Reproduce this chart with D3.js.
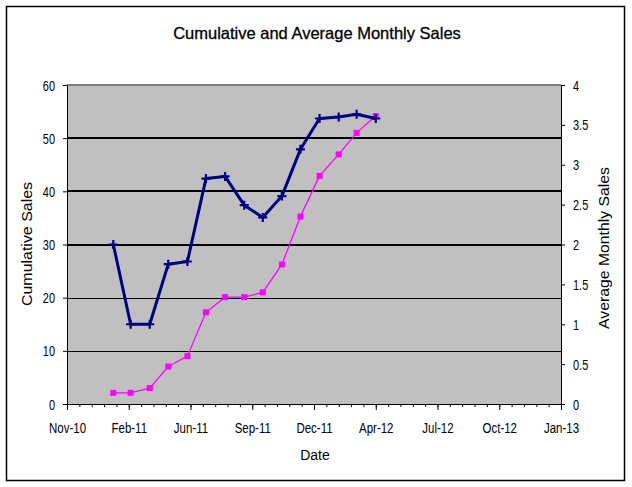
<!DOCTYPE html>
<html><head><meta charset="utf-8">
<script src="https://cdn.jsdelivr.net/npm/d3@7"></script>
<style>
body{margin:0;background:#fff;}
svg{display:block;}
text{font-family:"Liberation Sans",Arial,sans-serif;fill:#000;}
</style>
</head><body>
<svg id="c" width="632" height="487"></svg>
<script>
// ---- data ----
const months = ["2011-02-01","2011-03-01","2011-04-01","2011-05-01","2011-06-01","2011-07-01","2011-08-01",
                "2011-09-01","2011-10-01","2011-11-01","2011-12-01","2012-01-01","2012-02-01","2012-03-01","2012-04-01"];
const cumulativeSales = [30, 15, 15, 26.3, 26.8, 42.4, 42.8, 37.4, 35.1, 39.1, 47.9, 53.7, 54.0, 54.5, 53.7];
const averageMonthlySales = [0.14, 0.14, 0.2, 0.47, 0.6, 1.15, 1.34, 1.34, 1.4, 1.75, 2.35, 2.86, 3.13, 3.4, 3.61];
const xTickLabels = ["Nov-10","Feb-11","Jun-11","Sep-11","Dec-11","Apr-12","Jul-12","Oct-12","Jan-13"];
const leftTicks = [0,10,20,30,40,50,60];
const rightTicks = [0,0.5,1,1.5,2,2.5,3,3.5,4];
const axisStartDate = "2010-11-18";
const majorStepDays = 100, minorStepDays = 20;

// ---- layout ----
const svg = d3.select("#c");
const P = {left:67, right:561, top:85, bottom:404};
const DAY = 864e5;
const t0 = new Date(axisStartDate + "T00:00:00Z").getTime();
const nMajor = xTickLabels.length - 1;
const x = d3.scaleUtc().domain([new Date(t0), new Date(t0 + nMajor*majorStepDays*DAY)]).range([P.left, P.right]);
const yL = d3.scaleLinear().domain([0,60]).range([P.bottom, P.top]);
const yR = d3.scaleLinear().domain([0,4]).range([P.bottom, P.top]);
const parse = d3.utcParse("%Y-%m-%d");
const dates = months.map(parse);

// outer frame
svg.append("rect").attr("x",6.5).attr("y",6.5).attr("width",618).attr("height",474)
  .attr("fill","#fff").attr("stroke","#000").attr("stroke-width",1.5);

// plot area
svg.append("rect").attr("x",P.left).attr("y",P.top).attr("width",P.right-P.left).attr("height",P.bottom-P.top)
  .attr("fill","#c0c0c0");

// gridlines
svg.append("g").selectAll("line").data(leftTicks.filter(v=>v>0 && v<60)).join("line")
  .attr("x1",P.left).attr("x2",P.right)
  .attr("y1",d=>Math.round(yL(d))+ (d>=30?0:0.5)).attr("y2",d=>Math.round(yL(d))+(d>=30?0:0.5))
  .attr("stroke","#000").attr("stroke-width",d=>d>=30?2:1);
svg.append("line").attr("x1",P.left).attr("x2",P.right).attr("y1",P.top).attr("y2",P.top)
  .attr("stroke","#808080").attr("stroke-width",2);

// axes
const gL = svg.append("g").attr("transform",`translate(${P.left},0)`)
  .call(d3.axisLeft(yL).tickValues(leftTicks).tickSize(4).tickSizeOuter(0).tickPadding(8));
const gR = svg.append("g").attr("transform",`translate(${P.right},0)`)
  .call(d3.axisRight(yR).tickValues(rightTicks).tickSize(4).tickSizeOuter(0).tickPadding(8).tickFormat(d3.format("")));
const majorDates = d3.range(nMajor+1).map(i=>new Date(t0 + i*majorStepDays*DAY));
const minorDates = d3.range(nMajor*majorStepDays/minorStepDays+1).map(i=>new Date(t0 + i*minorStepDays*DAY));
const gXm = svg.append("g").attr("transform",`translate(0,${P.bottom})`)
  .call(d3.axisBottom(x).tickValues(minorDates).tickSize(3).tickSizeOuter(0).tickFormat(""));
const gX = svg.append("g").attr("transform",`translate(0,${P.bottom})`)
  .call(d3.axisBottom(x).tickValues(majorDates).tickSize(6).tickSizeOuter(0).tickFormat((d,i)=>xTickLabels[i]));

[gL,gR,gX,gXm].forEach(g=>{
  g.selectAll(".domain").attr("stroke","#000").attr("stroke-width",1);
  g.selectAll(".tick line").attr("stroke","#000").attr("stroke-width",1);
  g.selectAll("text").attr("font-family",null).style("font-family",'"Liberation Sans",Arial,sans-serif');
});
gL.selectAll("text").attr("font-size",11).attr("dy",null).attr("y",0).attr("transform","translate(0,5) scale(1,1.32)");
gR.selectAll("text").attr("font-size",11).attr("dy",null).attr("y",0).attr("transform","translate(0,5) scale(1,1.32)");
gX.selectAll("text").attr("font-size",11.5).attr("dy",null).attr("y",0).attr("transform","translate(0,29) scale(1,1.32)");

// series: average (magenta), right axis
const lineR = d3.line().x((d,i)=>x(dates[i])).y(d=>yR(d));
svg.append("path").datum(averageMonthlySales).attr("d",lineR)
  .attr("fill","none").attr("stroke","#ff00ff").attr("stroke-width",1.3);
svg.append("g").selectAll("rect").data(averageMonthlySales).join("rect")
  .attr("x",(d,i)=>x(dates[i])-3).attr("y",d=>yR(d)-3).attr("width",6).attr("height",6).attr("fill","#ff00ff");

// series: cumulative (navy), left axis
const lineL = d3.line().x((d,i)=>x(dates[i])).y(d=>yL(d));
svg.append("path").datum(cumulativeSales).attr("d",lineL)
  .attr("fill","none").attr("stroke","#000080").attr("stroke-width",3).attr("stroke-linejoin","round");
svg.append("g").selectAll("path").data(cumulativeSales).join("path")
  .attr("transform",(d,i)=>`translate(${x(dates[i])},${yL(d)})`)
  .attr("d","M-4.5,0H4.5M0,-4.5V4.5").attr("stroke","#000080").attr("stroke-width",2.2);

// titles
svg.append("text").attr("x",317).attr("y",39).attr("text-anchor","middle")
  .attr("font-size",16.5).attr("stroke","#000").attr("stroke-width",0.3).text("Cumulative and Average Monthly Sales");
svg.append("text").attr("x",315).attr("y",460).attr("text-anchor","middle")
  .attr("font-size",14).text("Date");
svg.append("text").attr("transform","translate(32,244) rotate(-90)").attr("text-anchor","middle")
  .attr("font-size",14).attr("textLength",124).attr("lengthAdjust","spacingAndGlyphs").text("Cumulative Sales");
svg.append("text").attr("transform","translate(609,248) rotate(-90)").attr("text-anchor","middle")
  .attr("font-size",14).attr("textLength",162).attr("lengthAdjust","spacingAndGlyphs").text("Average Monthly Sales");
</script>
</body></html>
